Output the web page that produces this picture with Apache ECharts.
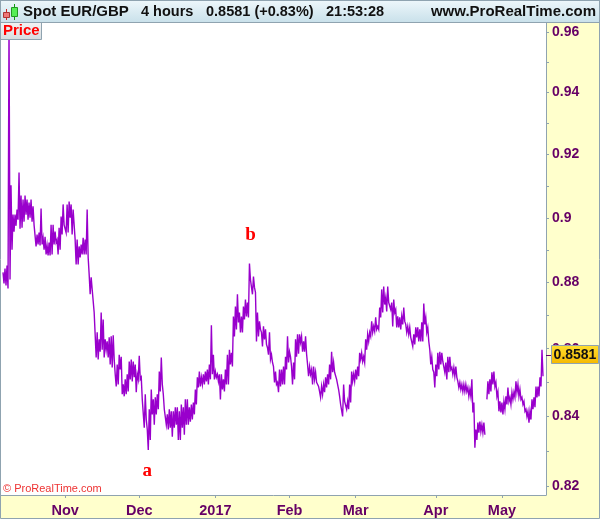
<!DOCTYPE html>
<html>
<head>
<meta charset="utf-8">
<style>
html, body { margin: 0; padding: 0; background: #fff; }
#chart { width: 600px; height: 519px; }
</style>
<script src="https://cdn.jsdelivr.net/npm/echarts@6/dist/echarts.min.js"></script>
</head>
<body>
<div id="chart"></div>
<script>
var monthNames = ['Nov', 'Dec', '2017', 'Feb', 'Mar', 'Apr', 'May'];
var monthSlots = [64, 138, 214, 288, 354, 434, 500];
var slotCount = 545;
var priceLabels = [0.82, 0.84, 0.86, 0.88, 0.9, 0.92, 0.94, 0.96];
var priceTicks = [0.82, 0.83, 0.84, 0.85, 0.86, 0.87, 0.88, 0.89, 0.9, 0.91, 0.92, 0.93, 0.94, 0.95, 0.96];
var lastPrice = 0.8581;

// high and low of each bar. null = break in the trace
var highs = [
  .8831,.8843,.8852,.9630,.9102,.9010,.9010,.9026,.9143,.9070,.9057,.9070,.9057,.9048,.9057,.9036,.8978,.8948,.8954,.9029,
  .8938,.8941,.8914,.8923,.8978,.8978,.8957,.8932,.8969,.9004,.9042,.8978,.9042,.9051,.9042,.9026,.8932,.8932,.8911,.8917,
  .8938,.8932,.9026,.8825,.8816,.8779,.8709,.8649,.8628,.8709,.8688,.8628,.8622,.8634,.8637,.8640,.8524,.8553,.8582,.8576,
  .8494,.8509,.8524,.8562,.8568,.8562,.8553,.8524,.8579,.8515,.8450,.8465,.8362,.8421,.8479,.8450,.8456,.8465,.8532,.8574,
  .8465,.8421,.8406,.8421,.8415,.8415,.8427,.8427,.8415,.8435,.8427,.8450,.8450,.8427,.8435,.8441,.8479,.8515,.8532,.8515,
  .8524,.8532,.8538,.8553,.8670,.8582,.8532,.8524,.8524,.8524,.8509,.8538,.8582,.8597,.8588,.8697,.8727,.8764,.8709,.8697,
  .8727,.8748,.8739,.8858,.8815,.8818,.8770,.8709,.8682,.8649,.8667,.8658,.8603,.8649,.8582,.8547,.8532,.8500,.8538,.8538,
  .8547,.8576,.8637,.8591,.8547,.8559,.8628,.8643,.8643,.8637,.8622,.8637,.8553,.8547,.8538,.8547,.8530,.8503,.8473,.8488,
  .8494,.8515,.8524,.8553,.8591,.8559,.8530,.8509,.8459,.8435,.8494,.8441,.8444,.8494,.8532,.8524,.8538,.8547,.8588,.8588,
  .8576,.8628,.8643,.8649,.8682,.8667,.8694,.8667,.8724,.8779,.8788,.8754,.8788,.8739,.8739,.8748,.8718,.8697,.8694,.8697,
  .8724,.8673,.8667,.8664,.8634,.8643,.8664,.8664,.8658,.8679,.8736,.8694,.8664,.8597,.8576,.8530,.8553,.8588,.8591,.8588,
  .8562,.8559,.8576,.8576,.8544,.8544,.8547,.8503,.8500,.8494,.8494,.8494,.8485,.8479,.8509,.8441,.8362,.8382,.8385,.8376,
  .8382,null,.8503,.8509,.8530,.8532,.8500,.8473,.8444,.8441,.8444,.8459,.8485,.8456,.8471,.8471,.8503,.8494,.8479,.8456,
  .8444,.8421,.8415,.8415,.8450,.8456,.8488,.8488,.8515,.8597
];
var lows = [
  .8797,.8791,.8782,.8809,.8901,.8957,.8975,.8994,.8966,.8969,.8988,.9010,.8994,.9000,.8988,.8978,.8911,.8917,.8914,.8917,
  .8901,.8886,.8883,.8883,.8886,.8917,.8923,.8886,.8901,.8948,.8978,.8954,.8954,.9000,.8948,.8978,.8855,.8855,.8877,.8886,
  .8886,.8886,.8877,.8764,.8779,.8709,.8574,.8568,.8591,.8597,.8574,.8597,.8574,.8553,.8544,.8568,.8488,.8494,.8538,.8465,
  .8459,.8465,.8473,.8509,.8503,.8515,.8471,.8509,.8509,.8450,.8367,.8391,.8303,.8332,.8406,.8376,.8406,.8421,.8473,.8494,
  .8421,.8376,.8362,.8367,.8341,.8367,.8376,.8332,.8332,.8367,.8347,.8376,.8376,.8385,.8391,.8406,.8435,.8485,.8488,.8494,
  .8494,.8503,.8494,.8509,.8524,.8509,.8515,.8503,.8450,.8479,.8473,.8494,.8494,.8553,.8547,.8637,.8658,.8679,.8649,.8649,
  .8688,.8697,.8694,.8809,.8764,.8785,.8622,.8637,.8658,.8607,.8628,.8613,.8582,.8568,.8559,.8500,.8494,.8471,.8488,.8494,
  .8494,.8538,.8559,.8576,.8494,.8509,.8576,.8585,.8619,.8591,.8591,.8585,.8518,.8524,.8494,.8509,.8500,.8488,.8456,.8465,
  .8471,.8485,.8494,.8509,.8530,.8530,.8509,.8479,.8435,.8400,.8444,.8421,.8421,.8441,.8503,.8503,.8509,.8518,.8568,.8562,
  .8559,.8597,.8622,.8637,.8649,.8652,.8658,.8658,.8694,.8709,.8733,.8712,.8739,.8718,.8667,.8709,.8664,.8664,.8658,.8673,
  .8682,.8649,.8643,.8634,.8607,.8613,.8634,.8622,.8622,.8622,.8673,.8649,.8622,.8553,.8538,.8485,.8518,.8538,.8553,.8562,
  .8530,.8509,.8530,.8538,.8524,.8518,.8515,.8485,.8479,.8473,.8473,.8473,.8459,.8459,.8412,.8309,.8332,.8353,.8356,.8353,
  .8347,.8450,.8465,.8473,.8494,.8488,.8459,.8415,.8412,.8406,.8421,.8435,.8444,.8435,.8450,.8456,.8471,.8459,.8450,.8435,
  .8415,.8400,.8382,.8391,.8421,.8427,.8456,.8459,.8488,.8518
];

// each bar takes two slots on the axis: high, then low
var categories = [];
var trace = [];
for (var i = 0; i < slotCount; i++) {
  var m = monthSlots.indexOf(i);
  categories.push(m >= 0 ? monthNames[m] : '');
  var k = Math.floor(i / 2) - 1;
  if (k < 0 || k >= highs.length) {
    trace.push(null);
  } else {
    trace.push(i % 2 === 0 ? highs[k] : lows[k]);
  }
}

var axisColor = '#8fa3b0';
var labelColor = '#660066';
var purple = '#9900cc';
var labelFont = 'Liberation Sans';

var chart = echarts.init(document.getElementById('chart'), null, { renderer: 'canvas' });
chart.setOption({
  animation: false,
  backgroundColor: '#ffffcc',
  textStyle: { fontFamily: labelFont },
  grid: { left: 1, right: 54, top: 23, bottom: 24, backgroundColor: '#ffffff', show: true, borderWidth: 0 },
  xAxis: {
    type: 'category',
    data: categories,
    boundaryGap: false,
    axisLine: { lineStyle: { color: axisColor, width: 1 } },
    axisTick: {
      length: 3,
      lineStyle: { color: axisColor },
      interval: function (index, value) { return value !== ''; }
    },
    axisLabel: {
      color: labelColor,
      fontSize: 14.5,
      fontWeight: 'bold',
      fontFamily: labelFont,
      margin: 8,
      interval: function (index, value) { return value !== ''; }
    },
    splitLine: { show: false }
  },
  yAxis: {
    type: 'log',
    logBase: 10,
    position: 'right',
    min: 0.8174,
    max: 0.963,
    axisLine: { show: true, lineStyle: { color: axisColor, width: 1 } },
    axisTick: { show: true, length: 3, customValues: priceTicks, lineStyle: { color: axisColor } },
    axisLabel: {
      color: labelColor,
      fontSize: 14,
      fontWeight: 'bold',
      fontFamily: labelFont,
      margin: 6,
      customValues: priceLabels,
      padding: [2, 0, 0, 0],
      formatter: function (v) { return String(+(+v).toFixed(2)); }
    },
    splitLine: { show: false },
    minorTick: { show: false }
  },
  series: [{
    type: 'line',
    data: trace,
    showSymbol: false,
    symbol: 'none',
    connectNulls: false,
    sampling: false,
    lineStyle: { color: purple, width: 1.4, join: 'miter' },
    markPoint: {
      symbol: 'circle',
      symbolSize: 1,
      itemStyle: { color: 'transparent' },
      label: {
        show: true,
        position: 'inside',
        color: '#ff0000',
        fontFamily: 'Liberation Serif',
        fontWeight: 'bold',
        fontSize: 19,
        formatter: '{b}'
      },
      data: [
        { name: 'a', coord: [146, 0.8241] },
        { name: 'b', coord: [249, 0.8945] }
      ]
    }
  }],
  graphic: [
    // header strip
    { type: 'rect', z: 50, shape: { x: 0, y: 0, width: 600, height: 23 }, style: {
      fill: new echarts.graphic.LinearGradient(0, 0, 0, 1, [{ offset: 0, color: '#eef7fb' }, { offset: 1, color: '#c8e0ea' }]) } },
    { type: 'line', z: 51, shape: { x1: 0, y1: 0.5, x2: 600, y2: 0.5 }, style: { stroke: axisColor } },
    { type: 'line', z: 51, shape: { x1: 0, y1: 22.5, x2: 600, y2: 22.5 }, style: { stroke: axisColor } },
    // candle icon
    { type: 'line', z: 52, shape: { x1: 6.5, y1: 9, x2: 6.5, y2: 20 }, style: { stroke: '#cc2222' } },
    { type: 'rect', z: 53, shape: { x: 3.5, y: 12.5, width: 6, height: 5 }, style: { fill: '#ee7777', stroke: '#aa3333' } },
    { type: 'line', z: 52, shape: { x1: 14.5, y1: 4, x2: 14.5, y2: 20 }, style: { stroke: '#119911' } },
    { type: 'rect', z: 53, shape: { x: 11.5, y: 7.5, width: 6, height: 9 }, style: { fill: '#55ee55', stroke: '#229922' } },
    { type: 'text', z: 53, x: 23, y: 12, style: { text: 'Spot EUR/GBP', font: 'bold 15px "Liberation Sans"', fill: '#111', verticalAlign: 'middle' } },
    { type: 'text', z: 53, x: 141, y: 12, style: { text: '4 hours', font: 'bold 14.5px "Liberation Sans"', fill: '#111', verticalAlign: 'middle' } },
    { type: 'text', z: 53, x: 206, y: 12, style: { text: '0.8581 (+0.83%)', font: 'bold 14.5px "Liberation Sans"', fill: '#111', verticalAlign: 'middle' } },
    { type: 'text', z: 53, x: 326, y: 12, style: { text: '21:53:28', font: 'bold 14.5px "Liberation Sans"', fill: '#111', verticalAlign: 'middle' } },
    { type: 'text', z: 53, x: 596, y: 12, style: { text: 'www.ProRealTime.com', font: 'bold 15px "Liberation Sans"', fill: '#111', verticalAlign: 'middle', align: 'right' } },
    // Price tag
    { type: 'rect', z: 50, shape: { x: 0.5, y: 22.5, width: 41, height: 17 }, style: {
      fill: new echarts.graphic.LinearGradient(0, 0, 0, 1, [{ offset: 0, color: '#f4f4f4' }, { offset: 1, color: '#d4dce0' }]), stroke: axisColor } },
    { type: 'text', z: 51, x: 3, y: 31, style: { text: 'Price', font: 'bold 15px "Liberation Sans"', fill: '#ff0000', verticalAlign: 'middle' } },
    // copyright
    { type: 'text', z: 51, x: 3, y: 489, style: { text: '\u00a9 ProRealTime.com', font: '11px "Liberation Sans"', fill: '#ee3333', verticalAlign: 'middle' } },
    // last price box and its tick
    { type: 'line', z: 50, shape: { x1: 546, y1: 355.5, x2: 552, y2: 355.5 }, style: { stroke: labelColor } },
    { type: 'rect', z: 50, shape: { x: 551.5, y: 345.5, width: 47, height: 18 }, style: {
      fill: new echarts.graphic.LinearGradient(0, 0, 0, 1, [{ offset: 0, color: '#ffdf30' }, { offset: 1, color: '#f5b800' }]), stroke: axisColor } },
    { type: 'text', z: 51, x: 575, y: 355, style: { text: String(lastPrice), font: 'bold 14px "Liberation Sans"', fill: '#111', align: 'center', verticalAlign: 'middle' } },
    // outer frame
    { type: 'rect', z: 60, shape: { x: 0.5, y: 0.5, width: 599, height: 518 }, style: { fill: 'none', stroke: axisColor } }
  ]
});
</script>
</body>
</html>
